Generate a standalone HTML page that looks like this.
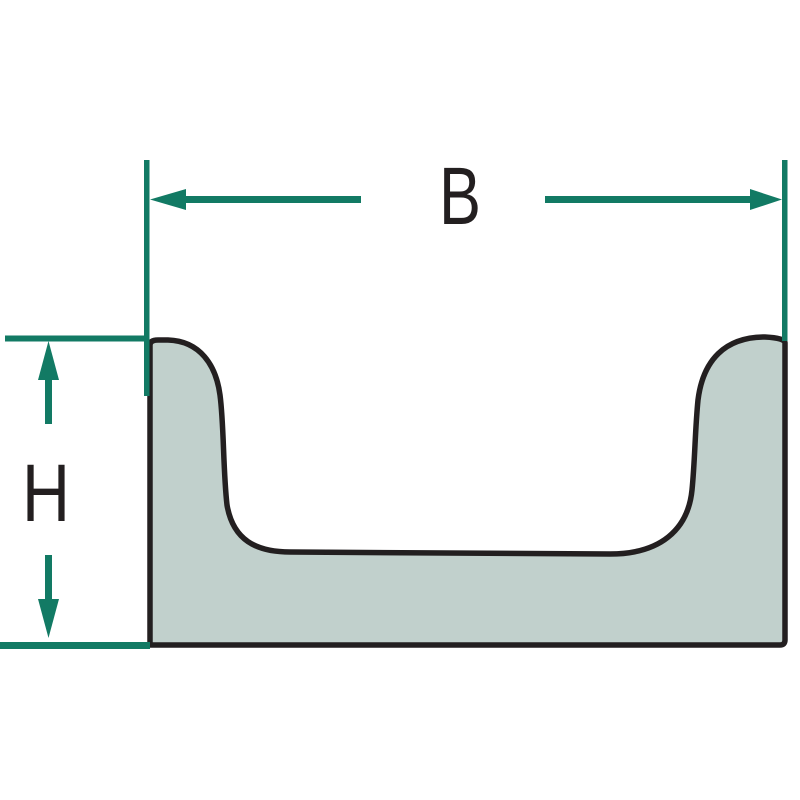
<!DOCTYPE html>
<html><head><meta charset="utf-8"><style>
html,body{margin:0;padding:0;background:#fff;}
svg{display:block;}
text{font-family:"Liberation Sans",sans-serif;fill:#231f20;}
</style></head><body>
<svg width="800" height="800" viewBox="0 0 800 800" xmlns="http://www.w3.org/2000/svg">
<rect width="800" height="800" fill="#fff"/>
<path d="M150,645 L150,345 Q150,340 158,340 L168,340 C200,341 216,365 220,395 C224,425 223,470 227,505 C233,540 256,552 290,552 L610,554 C660,554 688,530 692,490 C695,460 695,430 698,400 C703,360 725,337 765,337 Q785,338 785,343 L785,640 Q785,645 780,645 Z" fill="#c1d0cc" stroke="#231f20" stroke-width="5.5" stroke-linejoin="round"/>
<g fill="#127a64" stroke="none">
<rect x="144" y="160" width="5.5" height="236"/>
<rect x="782" y="160" width="5.5" height="181"/>
<rect x="5" y="335.5" width="144" height="6"/>
<rect x="0" y="642" width="150" height="7"/>
<rect x="180" y="196" width="181" height="7"/>
<polygon points="150,199.5 186,189 186,210"/>
<rect x="545" y="196" width="208" height="7"/>
<polygon points="782,199.5 750,189 750,210"/>
<rect x="45" y="372" width="7" height="52"/>
<polygon points="48.5,341 38,380 59,380"/>
<rect x="45" y="555" width="7" height="50"/>
<polygon points="48.5,638 38,599 59,599"/>
</g>
<text x="439" y="224" font-size="82" textLength="42" lengthAdjust="spacingAndGlyphs">B</text>
<text x="22" y="521" font-size="82" textLength="48" lengthAdjust="spacingAndGlyphs">H</text>
</svg>
</body></html>
